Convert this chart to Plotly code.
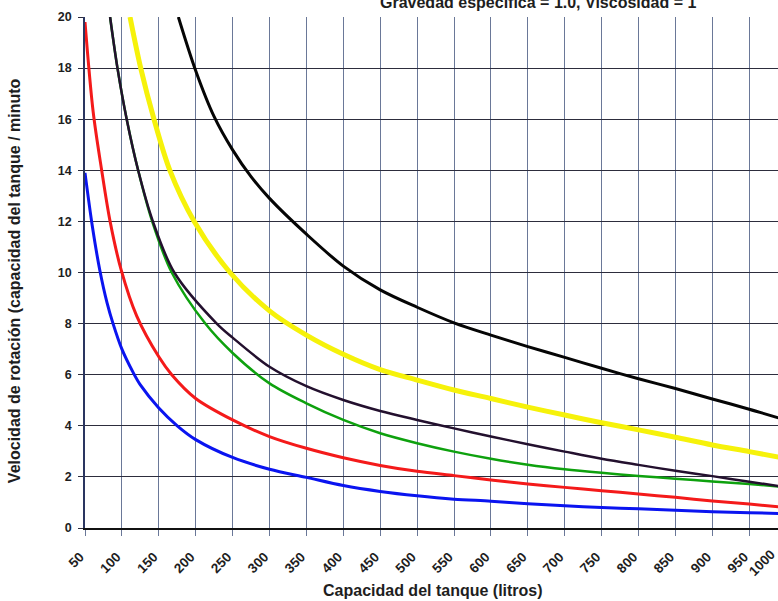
import plotly.graph_objects as go

# ---- data ----
x_blue = [50, 60, 70, 80, 88, 100, 115, 125, 150, 175, 200, 250, 300, 350, 400, 450, 500, 550, 600, 650, 700, 750, 800, 850, 900, 950, 1000]
y_blue = [13.9, 11.8, 10.1, 8.8, 8.0, 7.0, 6.1, 5.6, 4.7, 4.0, 3.46, 2.76, 2.3, 1.98, 1.66, 1.43, 1.26, 1.13, 1.05, 0.95, 0.87, 0.8, 0.75, 0.69, 0.64, 0.6, 0.56]

x_red = [50, 61, 72.6, 84, 99, 120, 150, 167.5, 200, 250, 300, 350, 400, 450, 500, 550, 600, 650, 700, 750, 800, 850, 900, 950, 1000]
y_red = [19.8, 16.3, 14, 12, 10.1, 8.3, 6.7, 6.0, 5.07, 4.23, 3.58, 3.12, 2.75, 2.45, 2.22, 2.05, 1.88, 1.72, 1.59, 1.46, 1.33, 1.2, 1.06, 0.94, 0.8]

x_green = [84, 94, 106.5, 122, 141, 167.5, 213, 250, 300, 350, 400, 450, 500, 550, 600, 650, 700, 750, 800, 850, 900, 950, 1000]
y_green = [20, 18, 16, 14, 12, 10, 8, 6.85, 5.66, 4.88, 4.23, 3.71, 3.32, 2.99, 2.71, 2.48, 2.3, 2.16, 2.04, 1.93, 1.82, 1.72, 1.6]

x_purple = [84, 94, 106.5, 122, 142, 171, 228.5, 250, 300, 350, 400, 450, 500, 550, 600, 650, 700, 750, 800, 850, 900, 950, 1000]
y_purple = [20, 18, 16, 14, 12, 10, 8, 7.45, 6.31, 5.55, 5.01, 4.58, 4.23, 3.9, 3.58, 3.28, 2.99, 2.71, 2.47, 2.24, 2.03, 1.81, 1.6]

x_yellow = [111, 125.5, 143.5, 165, 198, 246.5, 300, 350, 400, 450, 500, 550, 600, 650, 700, 750, 800, 850, 900, 950, 1000]
y_yellow = [20, 18, 16, 14, 12, 10, 8.5, 7.55, 6.8, 6.2, 5.79, 5.4, 5.07, 4.73, 4.42, 4.12, 3.84, 3.55, 3.25, 2.99, 2.72]

x_black = [176.5, 200, 225, 250, 275, 300, 350, 400, 450, 500, 550, 600, 650, 700, 750, 800, 850, 900, 950, 1000]
y_black = [20, 17.9, 16.1, 14.8, 13.75, 12.9, 11.5, 10.25, 9.32, 8.64, 8.03, 7.55, 7.1, 6.68, 6.25, 5.84, 5.46, 5.05, 4.65, 4.22]

x_ticks = list(range(50, 1001, 50))
y_ticks = list(range(0, 21, 2))
x_range = [50, 989]
y_range = [0, 20]

title_text = "Gravedad específica = 1.0, Viscosidad = 1"
x_title = "Capacidad del tanque (litros)"
y_title = "Velocidad de rotación (capacidad del tanque / minuto"

FONT = "Liberation Sans, Arial, sans-serif"
TXT = "#1e1e1e"

series = [
    (x_blue, y_blue, "#0a14f0", 3),
    (x_red, y_red, "#f41a1a", 3),
    (x_green, y_green, "#0ea10e", 2.5),
    (x_yellow, y_yellow, "#f6f20a", 5),
    (x_purple, y_purple, "#23102e", 2.5),
    (x_black, y_black, "#050505", 3),
]

fig = go.Figure()
for xs, ys, col, w in series:
    fig.add_trace(go.Scatter(x=xs, y=ys, mode="lines",
                             line=dict(color=col, width=w, shape="spline", smoothing=0.9),
                             showlegend=False, hoverinfo="skip"))

fig.update_layout(
    width=778, height=601,
    margin=dict(l=85, r=0, t=17, b=73, autoexpand=False),
    paper_bgcolor="white", plot_bgcolor="white",
    font=dict(family=FONT, color=TXT),
)

fig.update_xaxes(
    range=x_range, tickmode="array", tickvals=x_ticks,
    ticktext=["<b>%d</b>" % v for v in x_ticks], tickangle=-45,
    tickfont=dict(size=13.5, color=TXT), ticklabelshift=-5, ticklabelstandoff=8,
    showgrid=True, gridcolor="#6a7898", gridwidth=1,
    ticks="outside", ticklen=6, tickcolor="#6a7898",
    showline=True, linecolor="#111111", linewidth=1.5,
    zeroline=False, automargin=False,
)
fig.update_yaxes(
    range=y_range, tickmode="array", tickvals=y_ticks,
    ticktext=["<b>%d</b>" % v for v in y_ticks],
    tickfont=dict(size=12.5, color=TXT), ticklabelstandoff=4,
    showgrid=True, gridcolor="#2d2d3d", gridwidth=1,
    ticks="outside", ticklen=5, tickcolor="#2d2d3d",
    showline=True, linecolor="#2a3560", linewidth=1.5,
    zeroline=False, automargin=False,
)

# title, cut by the top edge as in the reference
fig.add_annotation(x=0.6537, xref="paper", y=1, yref="paper", yshift=15,
                   text="<b>" + title_text + "</b>", showarrow=False,
                   xanchor="center", yanchor="middle", font=dict(size=16, color=TXT))

# axis titles
fig.add_annotation(x=0.502, xref="paper", y=-0.123, yref="paper",
                   text="<b>" + x_title + "</b>", showarrow=False,
                   xanchor="center", yanchor="middle", font=dict(size=16, color=TXT))
fig.add_annotation(x=-0.1025, xref="paper", y=0.485, yref="paper",
                   text="<b>" + y_title + "</b>", showarrow=False, textangle=-90,
                   xanchor="center", yanchor="middle", font=dict(size=16, color=TXT))

# the 1000 tick label sits beyond the cut right edge of the picture
fig.add_annotation(x=(1000 - x_range[0]) / (x_range[1] - x_range[0]), xref="paper",
                   y=0, yref="paper", yshift=-16, xshift=-5, text="<b>1000</b>", textangle=-45,
                   xanchor="right", yanchor="top", showarrow=False,
                   font=dict(size=13.5, color=TXT))

fig.write_html("out.html", config={"displayModeBar": False},
               post_script="document.body.style.margin='0px';document.body.style.overflow='hidden';")
